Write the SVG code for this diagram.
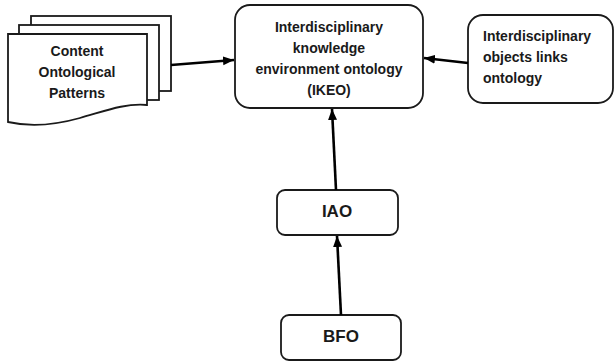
<svg xmlns="http://www.w3.org/2000/svg" width="616" height="362" viewBox="0 0 616 362">
<style>
.box{fill:#fff;stroke:#1a1a1a;stroke-width:1.8}
.t{font-family:"Liberation Sans",Arial,sans-serif;font-weight:bold;font-size:14px;fill:#1a1a1a}
.big{font-size:17px}
.mid{text-anchor:middle}
.edge{stroke:#000;stroke-width:2.6;fill:none}
</style>
<defs>
<marker id="ah" markerUnits="userSpaceOnUse" markerWidth="12" markerHeight="10" refX="11" refY="5" orient="auto">
<path d="M0,0.5 L11,5 L0,9.5 Z" fill="#000"/>
</marker>
</defs>
<rect width="616" height="362" fill="#fff"/>
<g id="cop">
<rect class="box" x="31" y="16" width="140" height="75"/>
<rect class="box" x="19" y="25" width="140" height="75"/>
<path class="box" d="M8,34 H147 V105 C125,103 105,111 80,118 C55,125 30,127 8,122 Z"/>
<text class="t mid" x="77" y="56">Content</text>
<text class="t mid" x="77" y="77">Ontological</text>
<text class="t mid" x="77" y="98">Patterns</text>
</g>
<g id="ikeo">
<rect class="box" x="235" y="5" width="188" height="103" rx="15"/>
<text class="t mid" x="329" y="32">Interdisciplinary</text>
<text class="t mid" x="329" y="53">knowledge</text>
<text class="t mid" x="329" y="74">environment ontology</text>
<text class="t mid" x="329" y="95">(IKEO)</text>
</g>
<g id="iolo">
<rect class="box" x="468" y="15" width="145" height="88" rx="15"/>
<text class="t" x="483" y="41">Interdisciplinary</text>
<text class="t" x="483" y="62">objects links</text>
<text class="t" x="483" y="83">ontology</text>
</g>
<g id="iao">
<rect class="box" x="277" y="190" width="121" height="45" rx="8"/>
<text class="t big mid" x="337" y="217">IAO</text>
</g>
<g id="bfo">
<rect class="box" x="281" y="315" width="120" height="45" rx="8"/>
<text class="t big mid" x="341" y="342">BFO</text>
</g>
<g id="connectors">
<path class="edge" d="M171,65 L234,60" marker-end="url(#ah)"/>
<path class="edge" d="M468,63 L424,58" marker-end="url(#ah)"/>
<path class="edge" d="M336,190 L332,109" marker-end="url(#ah)"/>
<path class="edge" d="M341,315 L337,236" marker-end="url(#ah)"/>
</g>
</svg>
